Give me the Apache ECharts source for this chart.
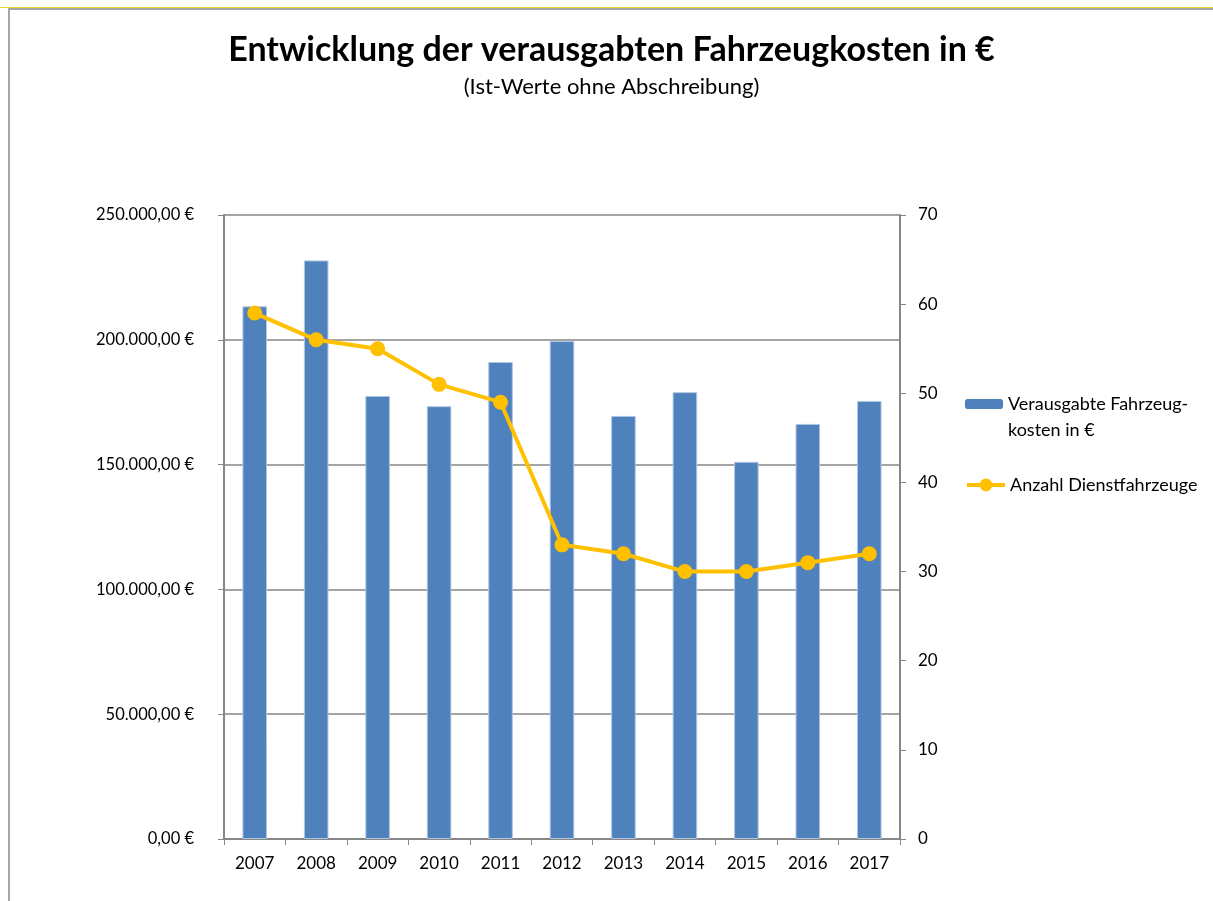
<!DOCTYPE html>
<html>
<head>
    <meta charset="utf-8">
    <title>Fahrzeugkosten</title>
    <script src="https://cdn.jsdelivr.net/npm/echarts@6/dist/echarts.min.js"></script>
    <style>
        body { margin: 0; background: #fff; }
        #topline { position: absolute; left: 0; top: 7px; width: 1213px; height: 1px; background: #e8dc2a; }
        #main {
            position: absolute; left: 8px; top: 8px;
            width: 1203px; height: 891px;
            border-left: 2px solid #a6a6a6; border-top: 2px solid #a6a6a6;
        }
    </style>
</head>
<body>
    <div id="topline"></div>
    <div id="main"></div>
    <script type="text/javascript">
        // Daten
        var jahre = ['2007', '2008', '2009', '2010', '2011', '2012', '2013', '2014', '2015', '2016', '2017'];
        var kosten = [213400, 231800, 177500, 173400, 191100, 199500, 169500, 179000, 151100, 166300, 175500];
        var fahrzeuge = [59, 56, 55, 51, 49, 33, 32, 30, 30, 31, 32];
        var nameKosten = 'Verausgabte Fahrzeugkosten in €';
        var nameAnzahl = 'Anzahl Dienstfahrzeuge';

        function euro(v) {
            var s = String(Math.round(v)).replace(/\B(?=(\d{3})+(?!\d))/g, '.');
            return s + ',00 €';
        }

        var font = 'Lato, "Liberation Sans", sans-serif';
        var grau = '#868686';

        var myChart = echarts.init(document.getElementById('main'));
        var option = {
            animation: false,
            textStyle: { fontFamily: font },
            title: {
                text: 'Entwicklung der verausgabten Fahrzeugkosten in €',
                subtext: '(Ist-Werte ohne Abschreibung)',
                left: 'center',
                top: 18,
                itemGap: 9,
                textStyle: { fontFamily: font, fontSize: 34, fontWeight: 'bold', color: '#000' },
                subtextStyle: { fontFamily: font, fontSize: 22, color: '#000' }
            },
            legend: [{
                data: [nameKosten],
                orient: 'vertical',
                left: 950,
                top: 350,
                itemWidth: 38,
                itemHeight: 10,
                itemStyle: { borderWidth: 0 },
                // leere erste Zeile, damit das Symbol auf Höhe der ersten Textzeile liegt
                formatter: function () { return '{p| }\nVerausgabte Fahrzeug-\nkosten in €'; },
                textStyle: {
                    fontFamily: font, fontSize: 18, color: '#000', lineHeight: 26,
                    rich: { p: { fontSize: 18, lineHeight: 26 } }
                }
            }, {
                data: [nameAnzahl],
                orient: 'vertical',
                left: 950,
                top: 461,
                itemWidth: 38,
                itemHeight: 16,
                lineStyle: { width: 4 },
                textStyle: { fontFamily: font, fontSize: 18, color: '#000' }
            }],
            grid: { left: 214, right: 313, top: 205, bottom: 62 },
            xAxis: {
                type: 'category',
                data: jahre,
                axisLine: { lineStyle: { color: grau, width: 2 } },
                axisTick: { show: true, length: 6, lineStyle: { color: grau } },
                axisLabel: { color: '#000', fontSize: 17, margin: 16 }
            },
            yAxis: [{
                type: 'value',
                min: 0, max: 250000, interval: 50000,
                axisLine: { show: true, lineStyle: { color: grau, width: 2 } },
                axisTick: { show: true, length: 6, lineStyle: { color: grau } },
                splitLine: { lineStyle: { color: grau, width: 1.5 } },
                axisLabel: { color: '#000', fontSize: 16.5, margin: 30, formatter: euro }
            }, {
                type: 'value',
                position: 'right',
                min: 0, max: 70, interval: 10,
                axisLine: { show: true, lineStyle: { color: grau, width: 2 } },
                axisTick: { show: true, length: 6, lineStyle: { color: grau } },
                splitLine: { show: false },
                axisLabel: { color: '#000', fontSize: 17, margin: 18 }
            }],
            series: [{
                name: nameKosten,
                type: 'bar',
                data: kosten,
                barWidth: '40%',
                itemStyle: { color: '#4f81bd', borderColor: '#b0c6e2', borderWidth: 1 }
            }, {
                name: nameAnzahl,
                type: 'line',
                yAxisIndex: 1,
                data: fahrzeuge,
                symbol: 'circle',
                symbolSize: 15,
                color: '#ffc000',
                lineStyle: { color: '#ffc000', width: 4 },
                itemStyle: { color: '#ffc000' }
            }]
        };
        myChart.setOption(option);
    </script>
</body>
</html>
